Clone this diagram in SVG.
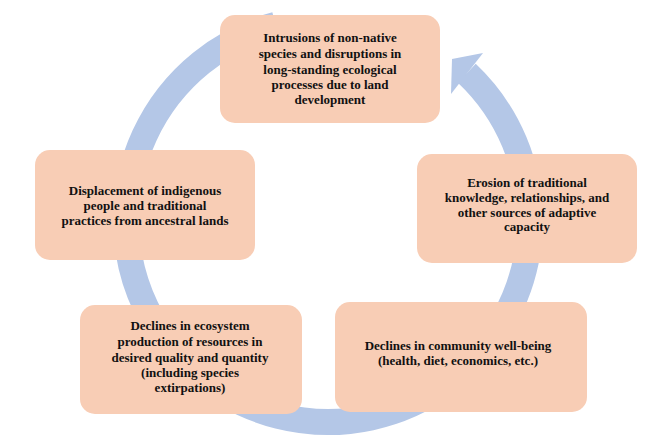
<svg xmlns="http://www.w3.org/2000/svg" width="657" height="440" viewBox="0 0 657 440">
<style>
.box{fill:#f8cdb5;}
.t{font-family:"Liberation Serif","Times New Roman",serif;font-weight:bold;font-size:13px;fill:#111;text-anchor:middle;}
.ring{fill:none;stroke:#b4c7e7;stroke-width:26;}
</style>
<rect width="657" height="440" fill="#ffffff"/>
<g id="connectors">
<path class="ring" d="M 466.8 73.2 A 202 202 0 1 1 275.7 24.9"/>
<polygon points="452,59 483,53 451,94" fill="#b4c7e7"/>
</g>
<g id="n1">
<rect class="box" x="220" y="15" width="220" height="108" rx="15"/>
<text class="t" x="330" y="42">Intrusions of non-native</text>
<text class="t" x="330" y="58">species and disruptions in</text>
<text class="t" x="330" y="74">long-standing ecological</text>
<text class="t" x="330" y="89">processes due to land</text>
<text class="t" x="330" y="104">development</text>
</g>
<g id="n2">
<rect class="box" x="417" y="154" width="220" height="109" rx="15"/>
<text class="t" x="527" y="187">Erosion of traditional</text>
<text class="t" x="527" y="202">knowledge, relationships, and</text>
<text class="t" x="527" y="217">other sources of adaptive</text>
<text class="t" x="527" y="231">capacity</text>
</g>
<g id="n3">
<rect class="box" x="335" y="302" width="252" height="110" rx="15"/>
<text class="t" x="458" y="350">Declines in community well-being</text>
<text class="t" x="458" y="365">(health, diet, economics, etc.)</text>
</g>
<g id="n4">
<rect class="box" x="80" y="305" width="222" height="109" rx="15"/>
<text class="t" x="190" y="330">Declines in ecosystem</text>
<text class="t" x="190" y="346">production of resources in</text>
<text class="t" x="190" y="362">desired quality and quantity</text>
<text class="t" x="190" y="377">(including species</text>
<text class="t" x="190" y="392">extirpations)</text>
</g>
<g id="n5">
<rect class="box" x="35" y="150" width="220" height="110" rx="15"/>
<text class="t" x="145" y="195">Displacement of indigenous</text>
<text class="t" x="145" y="210">people and traditional</text>
<text class="t" x="145" y="225">practices from ancestral lands</text>
</g>
</svg>
